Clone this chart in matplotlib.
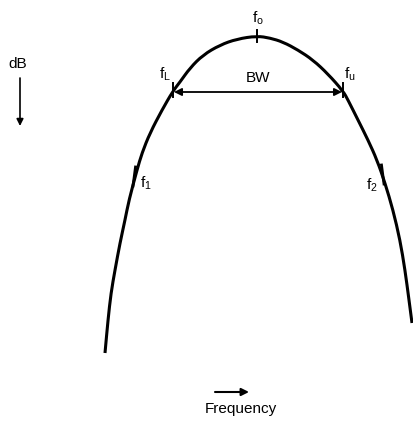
import matplotlib.pyplot as plt
from matplotlib.path import Path
from matplotlib.patches import PathPatch

# response curve (frequency position, dB down)
freq = [105, 108, 111, 115, 120, 125, 129, 137, 142, 150, 162, 173, 180, 190, 203,
        220, 237, 257, 270, 283, 298, 313, 328, 343, 348, 358, 368, 377, 385, 393,
        400, 405, 409, 412]
db_down = [353, 320, 293, 270, 243, 220, 200, 170, 153, 133, 110, 91, 82, 68, 55,
           45, 39, 36, 38, 42, 50, 60, 74, 91, 100, 120, 140, 160, 183, 210,
           240, 270, 300, 323]

# marked frequencies
f_o, f_L, f_u, f_1, f_2 = 257, 173, 343, 134, 383
y_o, y_band, y_1, y_2 = 36, 91, 177, 175

plt.rcParams['font.family'] = ['Liberation Sans', 'DejaVu Sans']
fig = plt.figure(figsize=(4.13, 4.21), dpi=100)
ax = fig.add_axes([0, 0, 1, 1])
ax.set_xlim(0, 413)
ax.set_ylim(421, 0)
ax.axis('off')

# smooth curve through the read points (quadratic segments between midpoints)
pts = list(zip(freq, db_down))
verts = [pts[0]]
codes = [Path.MOVETO]
mids = [((a[0] + b[0]) / 2, (a[1] + b[1]) / 2) for a, b in zip(pts[:-1], pts[1:])]
verts.append(mids[0])
codes.append(Path.LINETO)
for i in range(1, len(pts) - 1):
    verts += [pts[i], mids[i]]
    codes += [Path.CURVE3, Path.CURVE3]
verts.append(pts[-1])
codes.append(Path.LINETO)
ax.add_patch(PathPatch(Path(verts, codes), fill=False, edgecolor='black', lw=2.2,
                       capstyle='butt', joinstyle='round'))

# tick marks on the curve
ax.plot([f_o, f_o], [y_o - 6, y_o + 6], color='black', lw=1.4)
ax.plot([f_L, f_L], [y_band - 8, y_band + 6], color='black', lw=1.4)
ax.plot([f_u, f_u], [y_band - 8, y_band + 6], color='black', lw=1.4)
ax.plot([f_1 + 1.5, f_1 - 1], [y_1 - 10, y_1 + 9], color='black', lw=2.0)
ax.plot([f_2 - 1.5, f_2 + 1], [y_2 - 10, y_2 + 9], color='black', lw=2.0)

# bandwidth arrow
ax.annotate('', xy=(f_L + 1, y_band + 1), xytext=(f_u - 1, y_band + 1),
            arrowprops=dict(arrowstyle='<|-|>', color='black', lw=1.3,
                            mutation_scale=11, shrinkA=0, shrinkB=0))
ax.text((f_L + f_u) / 2, y_band - 6, 'BW', fontsize=11, ha='center', va='bottom')

lab = dict(fontsize=11, color='black')
ax.text(f_o + 1, y_o - 9, r'$\mathregular{f_o}$', ha='center', va='bottom', **lab)
ax.text(f_L - 8, y_band - 8, r'$\mathregular{f_L}$', ha='center', va='bottom', **lab)
ax.text(f_u + 7, y_band - 8, r'$\mathregular{f_u}$', ha='center', va='bottom', **lab)
ax.text(f_1 + 12, y_1 + 6, r'$\mathregular{f_1}$', ha='center', va='center', **lab)
ax.text(f_2 - 11, y_2 + 10, r'$\mathregular{f_2}$', ha='center', va='center', **lab)

# axis hints
ax.text(18, 64, 'dB', fontsize=11, ha='center', va='center')
ax.annotate('', xy=(20, 126), xytext=(20, 78),
            arrowprops=dict(arrowstyle='-|>', color='black', lw=1.2,
                            mutation_scale=10, shrinkA=0, shrinkB=0))
ax.annotate('', xy=(249, 392), xytext=(215, 392),
            arrowprops=dict(arrowstyle='-|>', color='black', lw=1.5,
                            mutation_scale=11, shrinkA=0, shrinkB=0))
ax.text(241, 409, 'Frequency', fontsize=11, ha='center', va='center')

fig.savefig('out.png', dpi=100)
